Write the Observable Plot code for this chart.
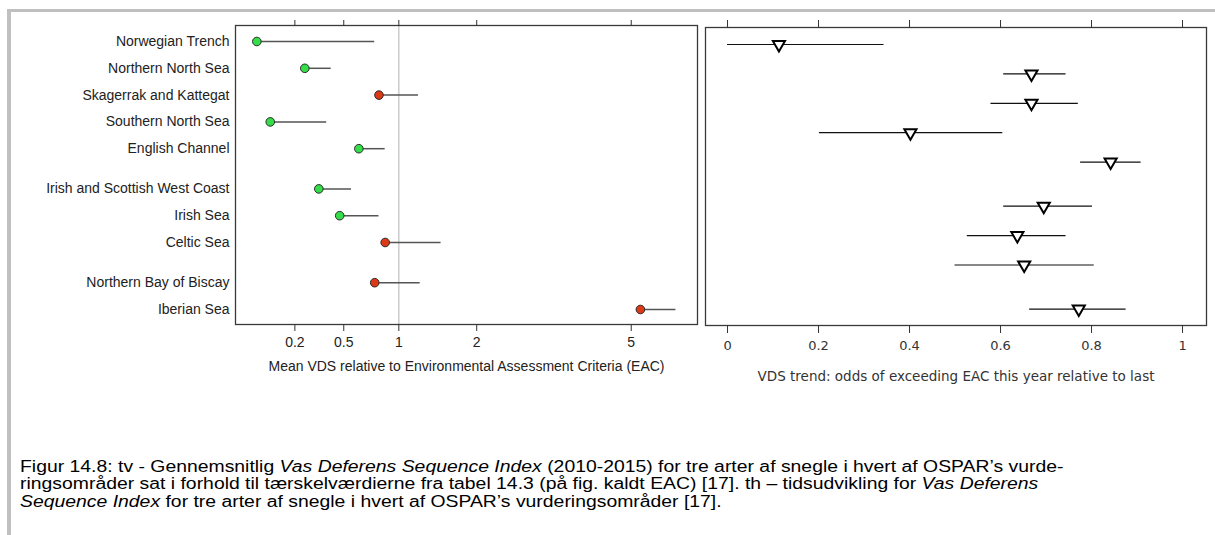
<!DOCTYPE html>
<html><head><meta charset="utf-8">
<script src="https://cdn.jsdelivr.net/npm/d3@7"></script>
<script src="https://cdn.jsdelivr.net/npm/@observablehq/plot@0.6"></script>
<style>
html,body{margin:0;padding:0;background:#fff;}
body{width:1215px;height:535px;position:relative;overflow:hidden;font-family:"Liberation Sans",Arial,sans-serif;}
#frameTop{position:absolute;left:7px;top:9px;width:1208px;height:3px;background:#c0c0c0;}
#frameLeft{position:absolute;left:7px;top:9px;width:4px;height:526px;background:#c0c0c0;}
#left{position:absolute;left:0;top:0;}
#right{position:absolute;left:700px;top:0;}
#caption{position:absolute;left:20px;top:458px;font-size:17px;line-height:19px;white-space:nowrap;color:#000;transform:scale(1.14,0.92);transform-origin:0 0;}
</style></head>
<body>
<div id="frameTop"></div><div id="frameLeft"></div>
<div id="left"></div><div id="right"></div>
<div id="caption">Figur 14.8: tv - Gennemsnitlig <i>Vas Deferens Sequence Index</i> (2010-2015) for tre arter af snegle i hvert af OSPAR’s vurde-<br>ringsområder sat i forhold til tærskelværdierne fra tabel 14.3 (på fig. kaldt EAC) [17]. th – tidsudvikling for <i>Vas Deferens</i><br><i>Sequence Index</i> for tre arter af snegle i hvert af OSPAR’s vurderingsområder [17].</div>
<script>
// ---- Left panel data: mean VDS relative to EAC, with upper confidence limit
const regions = ["Norwegian Trench", "Northern North Sea", "Skagerrak and Kattegat", "Southern North Sea", "English Channel",
  "Irish and Scottish West Coast", "Irish Sea", "Celtic Sea", "Northern Bay of Biscay", "Iberian Sea"];
const regionGroup = [0, 0, 0, 0, 0, 1, 1, 1, 2, 2];
const meanVDS  = [0.06, 0.25, 0.80, 0.10, 0.62, 0.33, 0.47, 0.86, 0.76, 5.22];
const upperVDS = [0.76, 0.41, 1.22, 0.38, 0.86, 0.56, 0.80, 1.50, 1.24, 6.12];
const vdsTicks = [0.2, 0.5, 1, 2, 5];
const eac = 1;

// ---- Right panel data: VDS trend odds with confidence interval
const trendGroup = [0, 0, 0, 0, 0, 1, 1, 1, 2];
const trendOdds = [0.113, 0.668, 0.668, 0.402, 0.842, 0.695, 0.637, 0.652, 0.772];
const trendLow  = [0.000, 0.607, 0.579, 0.202, 0.776, 0.607, 0.527, 0.500, 0.664];
const trendHigh = [0.344, 0.744, 0.771, 0.605, 0.909, 0.802, 0.744, 0.806, 0.876];
const trendTicks = [0, 0.2, 0.4, 0.6, 0.8, 1];

const leftTitle = "Mean VDS relative to Environmental Assessment Criteria (EAC)";
const rightTitle = "VDS trend: odds of exceeding EAC this year relative to last";

const green = "#35de48", red = "#dc3a17";

const vds = regions.map((name, i) => ({name, pos: i + 0.5 * regionGroup[i], mean: meanVDS[i], upper: upperVDS[i]}));
const posToName = new Map(vds.map(d => [d.pos, d.name]));
const trend = trendOdds.map((v, i) => ({pos: i + 0.5 * trendGroup[i], odds: v, low: trendLow[i], high: trendHigh[i]}));

const triangleDown = {
  draw(context, size) {
    const y = -Math.sqrt(size / (Math.sqrt(3) * 3));
    context.moveTo(0, -2 * y);
    context.lineTo(-Math.sqrt(3) * y, y);
    context.lineTo(Math.sqrt(3) * y, y);
    context.closePath();
  }
};

const leftPlot = Plot.plot({
  width: 700, height: 395,
  marginLeft: 235, marginRight: 3, marginTop: 25, marginBottom: 71,
  style: {fontFamily: "'Liberation Sans', Arial, sans-serif", fontSize: "14px", color: "#222", background: "transparent"},
  x: {type: "sqrt", domain: [0.01726, 6.70], label: null},
  y: {domain: [-0.597, 10.56], reverse: true, label: null},
  marks: [
    Plot.ruleX([eac], {stroke: "#c4c4c4", strokeWidth: 1.3}),
    Plot.frame({stroke: "#3a3a3a", strokeWidth: 1.3}),
    Plot.axisX({anchor: "top", ticks: vdsTicks, tickFormat: () => "", tickSize: 6, label: null, stroke: "#333"}),
    Plot.axisX({anchor: "bottom", ticks: vdsTicks, tickFormat: d => String(d), tickSize: 7, tickPadding: 6, label: null, stroke: "#333", fontSize: 14}),
    Plot.axisY({ticks: vds.map(d => d.pos), tickFormat: d => posToName.get(d), tickSize: 0, tickPadding: 6, label: null, fontSize: 14}),
    Plot.ruleY(vds, {y: "pos", x1: "mean", x2: "upper", stroke: "#555", strokeWidth: 1.5}),
    Plot.dot(vds, {x: "mean", y: "pos", r: 4.3, fill: green, stroke: "#2a2a2a", strokeWidth: 1, filter: d => d.upper < eac}),
    Plot.dot(vds, {x: "mean", y: "pos", r: 4.3, fill: red, stroke: "#2a2a2a", strokeWidth: 1, filter: d => d.upper >= eac}),
    Plot.text([leftTitle], {text: d => d, frameAnchor: "bottom", dy: 46, fontSize: 14, fill: "#222"})
  ]
});
document.getElementById("left").appendChild(leftPlot);

const rightPlot = Plot.plot({
  width: 515, height: 400,
  marginLeft: 5, marginRight: 9, marginTop: 27, marginBottom: 75,
  style: {fontFamily: "'DejaVu Sans', Verdana, sans-serif", fontSize: "13px", color: "#333", background: "transparent"},
  x: {domain: [-0.0484, 1.0527], label: null},
  y: {domain: [-0.578, 9.558], reverse: true, label: null, axis: null},
  marks: [
    Plot.frame({stroke: "#3a3a3a", strokeWidth: 1.3}),
    Plot.axisX({anchor: "top", ticks: trendTicks, tickFormat: () => "", tickSize: 8, label: null, stroke: "#333"}),
    Plot.axisX({anchor: "bottom", ticks: trendTicks, tickFormat: d => String(d), tickSize: 8, tickPadding: 7, label: null, stroke: "#333", fontSize: 13}),
    Plot.ruleY(trend, {y: "pos", x1: "low", x2: "high", stroke: "#111", strokeWidth: 1.2}),
    Plot.dot(trend, {x: "odds", y: "pos", r: 4.5, symbol: triangleDown, fill: "white", stroke: "#000", strokeWidth: 2}),
    Plot.text([rightTitle], {text: d => d, frameAnchor: "bottom", dy: 55, fontSize: 13.5, fill: "#333"})
  ]
});
document.getElementById("right").appendChild(rightPlot);
</script>
</body></html>
